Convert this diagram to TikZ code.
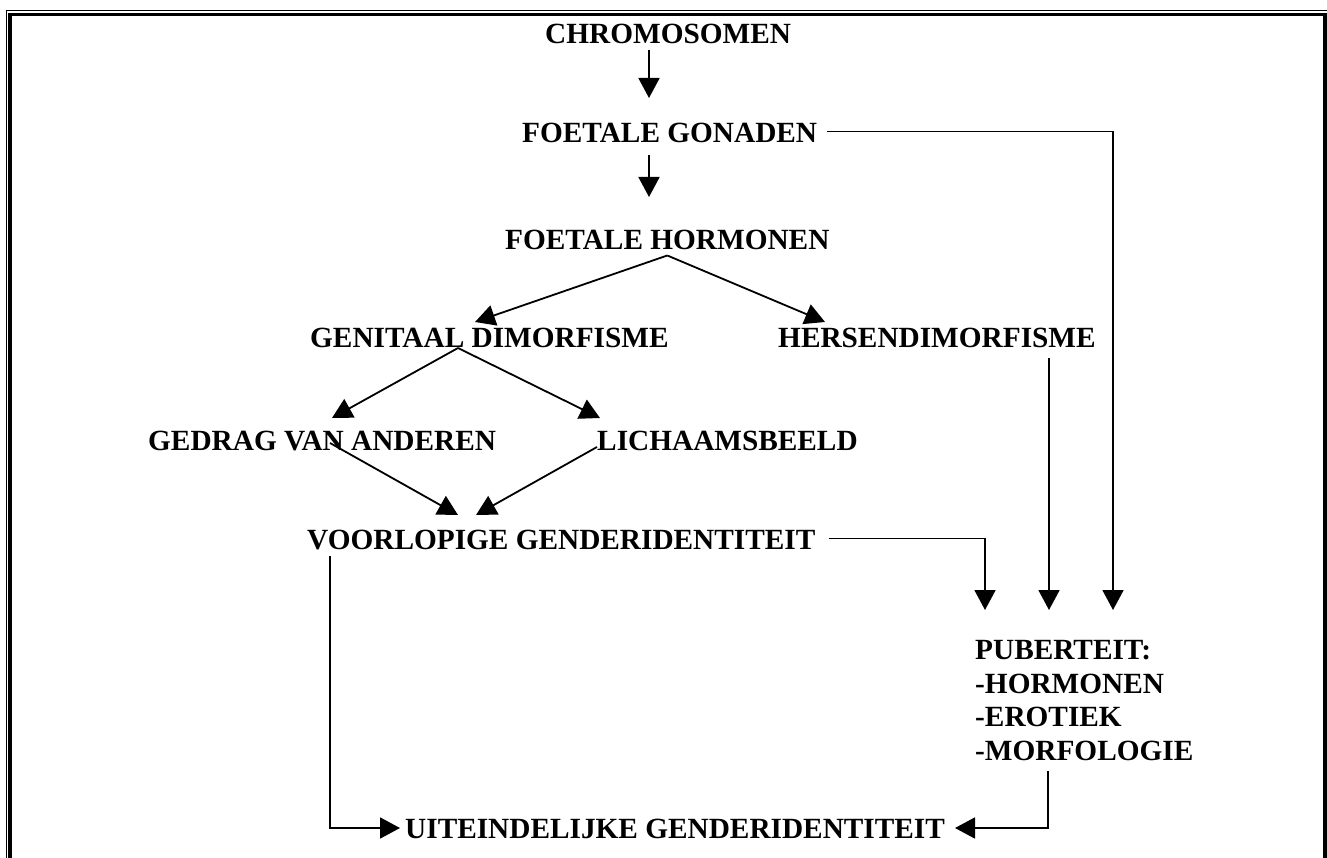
\documentclass[tikz,border=0pt]{standalone}
\usepackage{fontspec}
\setmainfont{Liberation Serif}
\usetikzlibrary{arrows.meta,calc}
\begin{document}
\begin{tikzpicture}[x=1pt,y=-1pt,
  lbl/.style={inner sep=0pt, anchor=base west, font=\fontsize{29.3}{33.5}\selectfont\bfseries},
  conn/.style={line width=1.8pt},
  arr/.style={conn,-{Triangle[length=20pt,width=21pt]}}]
\useasboundingbox (0,0) rectangle (1327,858);
% frame
\draw[line width=1.6pt] (6.5,858) -- (6.5,10.7) -- (1327,10.7);
\draw[line width=3.2pt] (10,858) -- (10,14.5) -- (1325,14.5) -- (1325,858);
% labels
\node[lbl] (chrom) at (545,44) {CHROMOSOMEN};
\node[lbl] (gon) at (522,143) {FOETALE GONADEN};
\node[lbl] (horm) at (505,250) {FOETALE HORMONEN};
\node[lbl] (gen) at (310,348) {GENITAAL DIMORFISME};
\node[lbl] (hers) at (778,348) {HERSENDIMORFISME};
\node[lbl] (gedr) at (148,450) {GEDRAG VAN ANDEREN};
\node[lbl] (lich) at (597,450) {LICHAAMSBEELD};
\node[lbl] (voor) at (307,549) {VOORLOPIGE GENDERIDENTITEIT};
\node[lbl, anchor=north west, align=left] (pub) at (975,640.5) {PUBERTEIT:\\-HORMONEN\\-EROTIEK\\-MORFOLOGIE};
\node[lbl] (uit) at (405,838) {UITEINDELIJKE GENDERIDENTITEIT};
% arrow tips
\coordinate (t1) at (649,98);
\coordinate (t2) at (649,197);
\coordinate (t3) at (475,322);
\coordinate (t4) at (825,322);
\coordinate (t5) at (332,418);
\coordinate (t6) at (600,418);
\coordinate (t7) at (458,515);
\coordinate (t8) at (476,515);
\coordinate (t9) at (985,610);
\coordinate (t10) at (1049,610);
\coordinate (t11) at (1113,610);
\coordinate (t12) at (400,828);
\coordinate (t13) at (955,828);
% connectors
\draw[arr] ($(chrom.south -| t1)+(0,6)$) -- (t1);
\draw[arr] ($(gon.south -| t2)+(0,12)$) -- (t2);
\draw[arr] ($(horm.south)+(0,5)$) -- (t3);
\draw[arr] ($(horm.south)+(0,5)$) -- (t4);
\draw[arr] ($(gen.base west)+(148,0)$) -- (t5);
\draw[arr] ($(gen.base west)+(148,0)$) -- (t6);
\draw[arr] ($(gedr.base west)+(182,-7)$) -- (t7);
\draw[arr] ($(lich.base west)+(0,-3)$) -- (t8);
\draw[arr] ($(voor.east)+(13,-1)$) -| (t9);
\draw[arr] ($(hers.south -| t10)+(0,10)$) -- (t10);
\draw[arr] ($(gon.east)+(10,-2)$) -| (t11);
\draw[arr] ($(voor.base west)+(23,7)$) |- (t12);
\draw[arr] ($(pub.south west)+(73,10)$) |- (t13);
\end{tikzpicture}
\end{document}
